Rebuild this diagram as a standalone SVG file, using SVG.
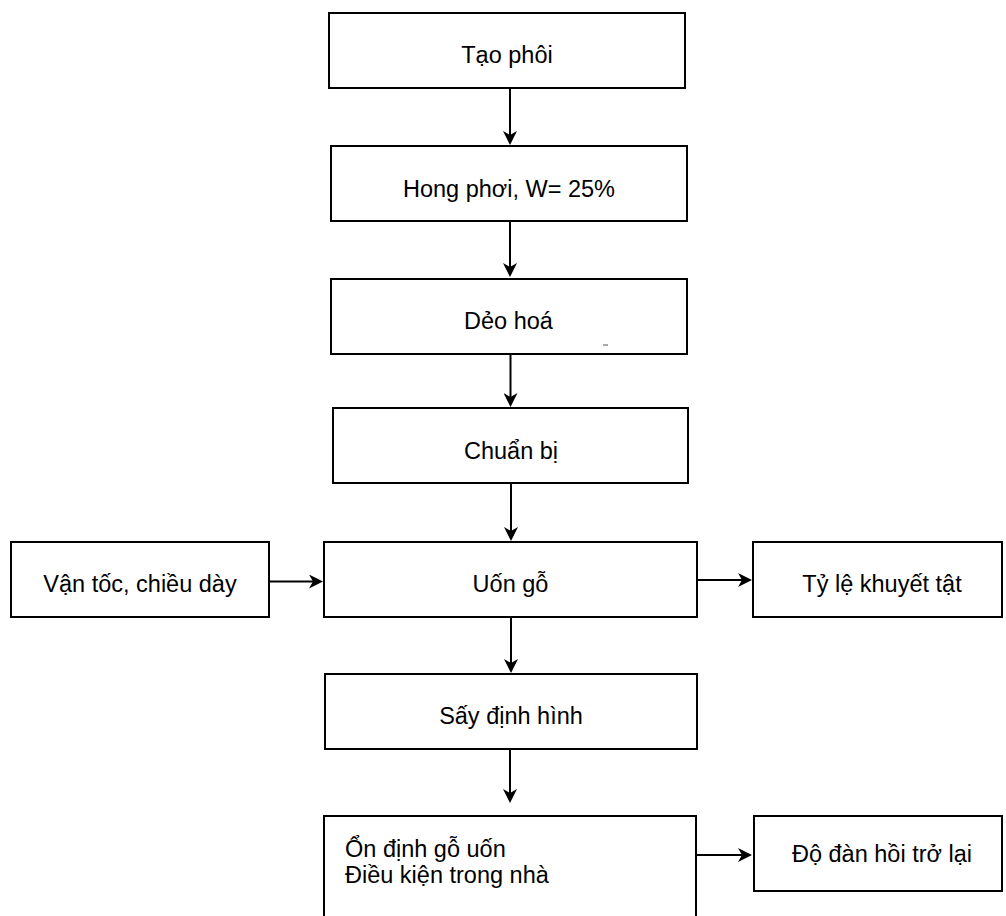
<svg xmlns="http://www.w3.org/2000/svg" width="1006" height="916" viewBox="0 0 1006 916">
<style>
.box{fill:#fff;stroke:#000;stroke-width:2}
.t{font-family:"Liberation Sans",Arial,sans-serif;font-size:23.5px;fill:#000;text-anchor:middle}
.tl{font-family:"Liberation Sans",Arial,sans-serif;font-size:23.5px;fill:#000}
.c{fill:none;stroke:#000;stroke-width:2}
</style>
<defs>
<marker id="ah" markerUnits="userSpaceOnUse" viewBox="0 0 14 14" refX="4" refY="7" markerWidth="14" markerHeight="14" orient="auto">
<path d="M0,0 L14,7 L0,14 L4,7 Z" fill="#000"/>
</marker>
</defs>
<rect width="1006" height="916" fill="#fff"/>
<g id="n1"><rect class="box" x="329" y="13" width="356" height="75"/><text class="t" x="507" y="63">Tạo phôi</text></g>
<g id="n2"><rect class="box" x="331" y="146" width="356" height="75"/><text class="t" x="509" y="197">Hong phơi, W= 25%</text></g>
<g id="n3"><rect class="box" x="331" y="279" width="356" height="75"/><text class="t" x="508.5" y="328.5">Dẻo hoá</text><line x1="603" y1="345" x2="608" y2="345" stroke="#555" stroke-width="1"/></g>
<g id="n4"><rect class="box" x="333" y="408" width="355" height="75"/><text class="t" x="511" y="458.5">Chuẩn bị</text></g>
<g id="n5"><rect class="box" x="324" y="542" width="373" height="75"/><text class="t" x="510.5" y="592">Uốn gỗ</text></g>
<g id="n6"><rect class="box" x="11" y="542" width="258" height="75"/><text class="t" x="140" y="592">Vận tốc, chiều dày</text></g>
<g id="n7"><rect class="box" x="753" y="542" width="249" height="75"/><text class="t" x="882" y="592">Tỷ lệ khuyết tật</text></g>
<g id="n8"><rect class="box" x="325" y="674" width="372" height="75"/><text class="t" x="511" y="723.5">Sấy định hình</text></g>
<g id="n9"><rect class="box" x="324" y="816" width="372" height="120"/><text class="tl" x="345" y="857">Ổn định gỗ uốn</text><text class="tl" x="345" y="883">Điều kiện trong nhà</text></g>
<g id="n10"><rect class="box" x="754" y="816" width="248" height="75"/><text class="t" x="882" y="862">Độ đàn hồi trở lại</text></g>
<g id="connectors">
<line class="c" x1="510" y1="88" x2="510" y2="135" marker-end="url(#ah)"/>
<line class="c" x1="510" y1="221" x2="510" y2="267" marker-end="url(#ah)"/>
<line class="c" x1="510.5" y1="354" x2="510.5" y2="397" marker-end="url(#ah)"/>
<line class="c" x1="511" y1="483" x2="511" y2="531" marker-end="url(#ah)"/>
<line class="c" x1="511" y1="617" x2="511" y2="663" marker-end="url(#ah)"/>
<line class="c" x1="510" y1="749" x2="510" y2="793" marker-end="url(#ah)"/>
<line class="c" x1="269" y1="581.5" x2="313" y2="581.5" marker-end="url(#ah)"/>
<line class="c" x1="697" y1="580" x2="742" y2="580" marker-end="url(#ah)"/>
<line class="c" x1="696" y1="855" x2="742" y2="855" marker-end="url(#ah)"/>
</g>
</svg>
